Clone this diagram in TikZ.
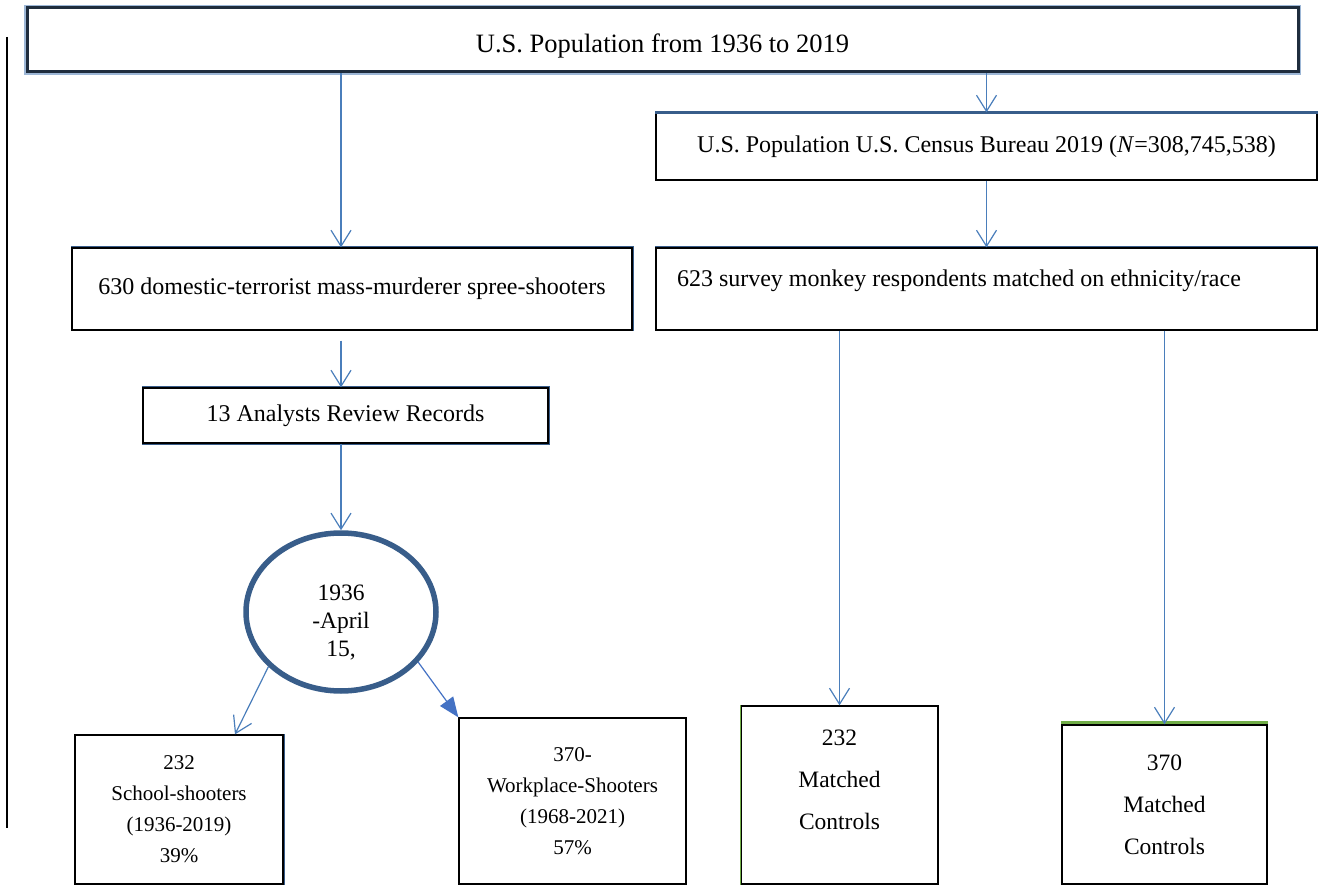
\documentclass[tikz,border=0pt]{standalone}
\usepackage{fontspec}
\setmainfont{Liberation Serif}
\usepackage{xcolor}
\definecolor{FCblue}{HTML}{4A7EBB}
\definecolor{FCfill}{HTML}{4472C4}
\definecolor{FCnavy}{HTML}{385D8A}
\definecolor{FCdark}{HTML}{1F2D3D}
\definecolor{FCglow}{HTML}{9DB7D6}
\definecolor{FCgreen}{HTML}{70AD47}
\usepackage{tikz}
\usetikzlibrary{arrows.meta, shapes.geometric}

\begin{document}
\begin{tikzpicture}[
  x=1pt, y=-1pt,
  box/.style={
    draw=black, line width=1.3pt, fill=white,
    inner sep=0pt, align=center
  },
  shade/.style={preaction={draw=FCnavy, line width=3pt}},
  main/.style={font=\fontsize{24}{28}\selectfont},
  small/.style={font=\fontsize{21}{31}\selectfont},
  ctrl/.style={font=\fontsize{23.5}{42}\selectfont, align=center},
  arrow/.style={-{Straight Barb[length=16pt, width=20pt]}, line width=1.2pt, color=FCblue},
  fillarrow/.style={-{Triangle[length=20pt, width=16pt]}, line width=1.2pt, color=FCfill},
]
\useasboundingbox (0,0) rectangle (1318,885);

% Row 1 — whole population
\node[box, preaction={draw=FCglow, line width=6.5pt}, draw=FCdark, line width=3pt,
  minimum width=1271pt, minimum height=64pt, font=\fontsize{26.5}{30}\selectfont,
  text height=31pt, text depth=6pt]
  (title) at (662.5,40) {U.S. Population from 1936 to 2019};

% Row 2 — census
\node[box, shade, main, minimum width=661pt, minimum height=67pt]
  (census) at (986.5,146.5) {U.S. Population U.S. Census Bureau 2019 (\textit{N}=308,745,538)};

% Row 3 — shooters / survey
\node[box, shade, main, minimum width=560pt, minimum height=82pt]
  (spree) at (352,289) {630 domestic-terrorist mass-murderer spree-shooters};
\node[box, shade, main, minimum width=661pt, minimum height=82pt,
  text width=619pt, align=flush left, text depth=21pt]
  (survey) at (986.5,289) {623 survey monkey respondents matched on ethnicity/race};

% Row 4 — review
\node[box, shade, main, minimum width=405pt, minimum height=55pt]
  (analysts) at (345.5,415.5) {13 Analysts Review Records};

% Period
\node[ellipse, draw=FCnavy, line width=5.5pt, fill=white, inner sep=0pt,
  minimum width=190pt, minimum height=158pt, align=center,
  font=\fontsize{23.5}{28}\selectfont, text height=93pt]
  (period) at (341,612) {1936\\-April\\15,};

% Bottom row — groups and controls
\node[box, shade, small, minimum width=208pt, minimum height=149pt]
  (school) at (179,809.5) {232\\School-shooters\\(1936-2019)\\39\%};
\node[box, small, minimum width=227pt, minimum height=166pt]
  (work) at (572.5,801) {370-\\Workplace-Shooters\\(1968-2021)\\57\%};
\node[box, minimum width=197pt, minimum height=178pt,
  label={[ctrl, name=ctrlAtxt, yshift=15pt]center:232\\Matched\\Controls}]
  (ctrlA) at (839.5,795) {};
\node[box, ctrl, minimum width=205pt, minimum height=159pt]
  (ctrlB) at (1164.5,804.5) {370\\Matched\\Controls};

% Edge accents
\draw[FCnavy, line width=3pt] (census.north west) -- (census.north east);
\draw[FCgreen, line width=3pt] ([yshift=1.5pt]ctrlB.north west) -- ([yshift=1.5pt]ctrlB.north east);
\draw[FCgreen, line width=1.3pt] (ctrlA.north west) -- (ctrlA.south west);

% Arrows
\draw[arrow] (title.south -| period.north) -- (spree.north -| period.north);
\draw[arrow] (title.south -| census.north) -- (census.north);
\draw[arrow] (census.south) -- (survey.north);
\draw[arrow] (spree.south -| period.north) ++(0,10) -- (analysts.north -| period.north);
\draw[arrow] (analysts.south -| period.north) -- (period.north);
\draw[arrow] (period.217) -- ([xshift=56pt]school.north);
\draw[fillarrow] (period.-33) -- (work.north west);
\draw[arrow] (survey.south -| ctrlA.north) -- (ctrlA.north);
\draw[arrow] (survey.south -| ctrlB.north) -- (ctrlB.north);

% Margin rule
\draw[line width=1.5pt] (7,37) -- (7,828);

\end{tikzpicture}
\end{document}
